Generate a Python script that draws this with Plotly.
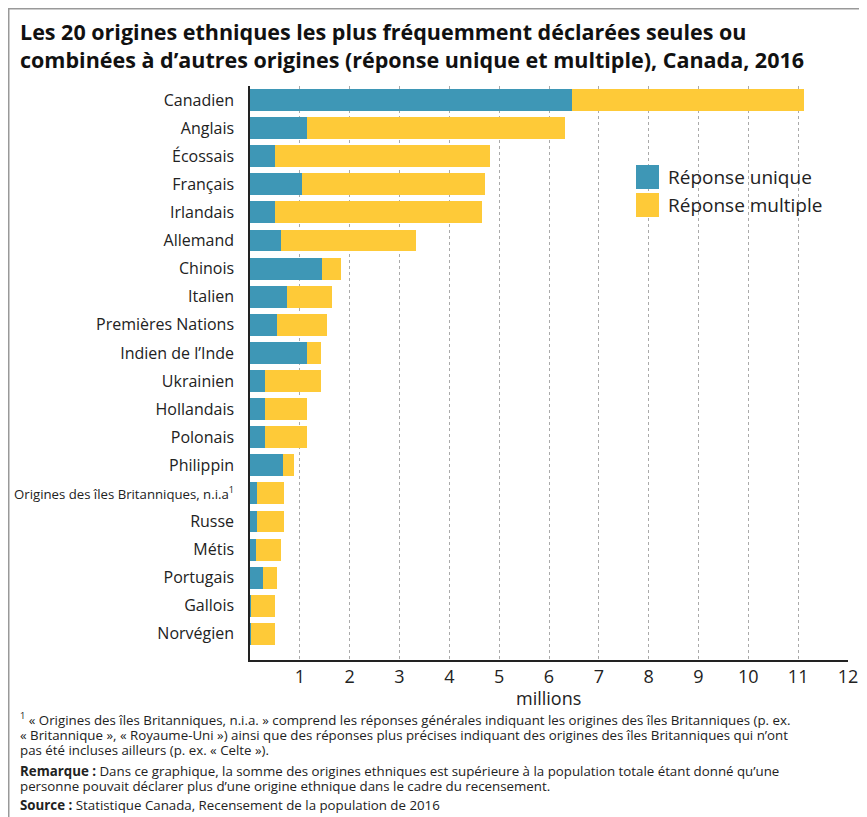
import plotly.graph_objects as go

categories = ["Canadien", "Anglais", "Écossais", "Français", "Irlandais", "Allemand", "Chinois",
              "Italien", "Premières Nations", "Indien de l’Inde", "Ukrainien", "Hollandais",
              "Polonais", "Philippin",
              "<span style=\"font-size:13.2px\">Origines des îles Britanniques, n.i.a<sup>1</sup></span>",
              "Russe", "Métis", "Portugais", "Gallois", "Norvégien"]
single = [6.46, 1.15, 0.51, 1.05, 0.51, 0.62, 1.45, 0.75, 0.55, 1.15, 0.31, 0.31, 0.31, 0.67,
          0.15, 0.15, 0.13, 0.27, 0.01, 0.01]
total = [11.12, 6.33, 4.82, 4.71, 4.66, 3.34, 1.82, 1.64, 1.55, 1.42, 1.42, 1.15, 1.15, 0.89,
         0.69, 0.69, 0.63, 0.55, 0.51, 0.51]
multiple = [round(t - s, 2) for t, s in zip(total, single)]
xticks = list(range(1, 13))

TEAL = "#3E97B6"
YELLOW = "#FECA38"
FONT = "Open Sans"

fig = go.Figure()
fig.add_trace(go.Bar(y=categories, x=single, orientation="h", name="Réponse unique",
                     marker=dict(color=TEAL, line=dict(width=0))))
fig.add_trace(go.Bar(y=categories, x=multiple, orientation="h", name="Réponse multiple",
                     marker=dict(color=YELLOW, line=dict(width=0))))

# page shows the figure offset by 8px (body margin); positions below are page pixels
OFF = 8
W, H = 867 - OFF, 817 - OFF
L, R, T, B = 250 - OFF, 848 - OFF, 86 - OFF, 660 - OFF
def px(x):
    return (x - OFF - L) / (R - L)
def py(y):
    return (B - (y - OFF)) / (B - T)

ann = []
ann.append(dict(text="<b>Les 20 origines ethniques les plus fréquemment déclarées seules ou<br>combinées à d’autres origines (réponse unique et multiple), Canada, 2016</b>",
                x=px(18), y=py(45), xanchor="left", yanchor="middle", align="left",
                font=dict(size=21.5, color="#111", family=FONT)))
ann.append(dict(text="millions", x=px(548), y=py(698), xanchor="center", yanchor="middle",
                font=dict(size=18, color="#222", family=FONT)))
# legend
leg = [(TEAL, "Réponse unique", 177), (YELLOW, "Réponse multiple", 205)]
shapes = []
for col, name, yc in leg:
    shapes.append(dict(type="rect", xref="paper", yref="paper", x0=px(636), x1=px(659),
                       y0=py(yc + 12), y1=py(yc - 12), fillcolor=col, line=dict(width=0)))
    ann.append(dict(text=name, x=px(666), y=py(yc), xanchor="left", yanchor="middle",
                    font=dict(size=19, color="#222", family=FONT)))
foot = [
    ("<sup>1</sup> « Origines des îles Britanniques, n.i.a. » comprend les réponses générales indiquant les origines des îles Britanniques (p. ex.", 719),
    ("« Britannique », « Royaume-Uni ») ainsi que des réponses plus précises indiquant des origines des îles Britanniques qui n’ont", 735),
    ("pas été incluses ailleurs (p. ex. « Celte »).", 750),
    ("<b>Remarque :</b> Dans ce graphique, la somme des origines ethniques est supérieure à la population totale étant donné qu’une", 771),
    ("personne pouvait déclarer plus d’une origine ethnique dans le cadre du recensement.", 786),
    ("<b>Source :</b> Statistique Canada, Recensement de la population de 2016", 805),
]
for t, yc in foot:
    ann.append(dict(text=t, x=px(18), y=py(yc), xanchor="left", yanchor="middle",
                    font=dict(size=13.3, color="#222", family=FONT)))
for a in ann:
    a.update(xref="paper", yref="paper", showarrow=False)

shapes.append(dict(type="rect", xref="paper", yref="paper", x0=px(OFF + 0.75), x1=px(862),
                   y0=py(840), y1=py(OFF + 0.75), line=dict(color="#999", width=1.5), layer="below"))

fig.update_layout(
    width=W, height=H, barmode="stack", bargap=0.22, showlegend=False,
    margin=dict(l=L, r=W - R, t=T, b=H - B, pad=0, autoexpand=False),
    paper_bgcolor="white", plot_bgcolor="white",
    font=dict(family=FONT, color="#222"),
    annotations=ann, shapes=shapes,
    xaxis=dict(range=[0, 12], tickvals=xticks, ticktext=[str(v) for v in xticks],
               showgrid=True, gridcolor="#aaa", griddash="dot", gridwidth=1,
               showline=True, linecolor="#222", linewidth=1.5, zeroline=False, automargin=False,
               ticks="", tickfont=dict(size=18, color="#222", family=FONT), ticklabelstandoff=0),
    yaxis=dict(type="category", range=[19.93, -0.5], showline=True, linecolor="#222", linewidth=1.5,
               showgrid=False, ticks="", tickfont=dict(size=16, color="#222", family=FONT),
               ticklabelstandoff=11, automargin=False),
)
fig.write_html("out.html")
